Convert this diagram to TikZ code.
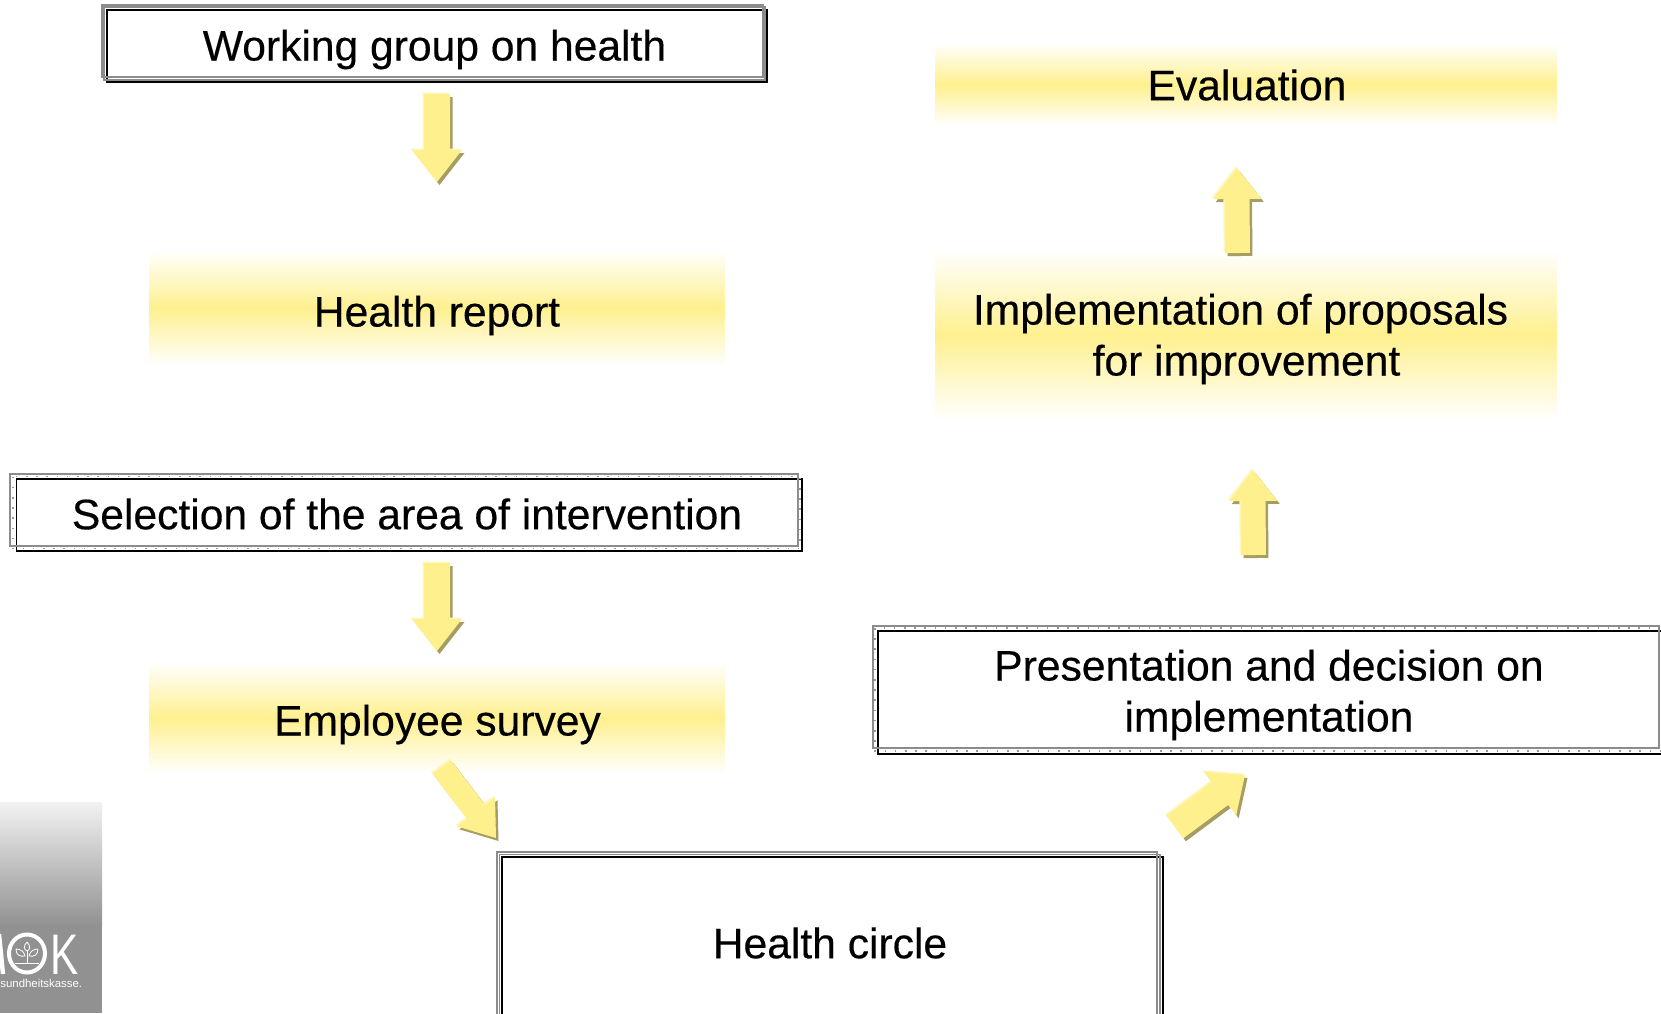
\documentclass[tikz,border=0pt]{standalone}
\usepackage{fontspec}
\setmainfont{Liberation Sans}
\newfontfamily\labelfont[FakeBold=0.35]{Liberation Sans}
\usetikzlibrary{calc}
\definecolor{bandyellow}{HTML}{FFF08F}
\definecolor{arrowface}{HTML}{FFF08E}
\definecolor{arrowlight}{HTML}{FFF6BE}
\definecolor{arrowshade}{HTML}{A59D62}
\tikzset{
  label text/.style={font=\labelfont\fontsize{21.3}{25.5}\selectfont, text=black, align=center, inner sep=0pt, anchor=center},
  band/.style={top color=white, bottom color=white, middle color=bandyellow, draw=none},
  frame gray/.style={draw=black!45, line width=0.6pt},
  frame dark/.style={draw=black, line width=0.6pt},
  frame dots/.style={draw=black!40, line width=0.7pt, dash pattern=on 0.8pt off 4.3pt},
}
% block arrow from #1 to #2, half shaft width #3, half head width #4, head length #5
\newcommand{\blockarrow}[5]{%
  \coordinate (hm) at ($(#2)!#5!(#1)$);
  \coordinate (as) at ($(#1)!#3!90:(#2)$);
  \coordinate (bl) at ($(#1)!#3!-90:(#2)$);
  \coordinate (ar) at ($(hm)!#3!-90:(#2)$);
  \coordinate (al) at ($(hm)!#3!90:(#2)$);
  \coordinate (hr) at ($(hm)!#4!-90:(#2)$);
  \coordinate (hl) at ($(hm)!#4!90:(#2)$);
  \coordinate (at) at (#2);
  \fill[arrowshade] ($(as)+(2.5,3)$) -- ($(al)+(2.5,3)$) -- ($(hl)+(2.5,3)$) -- ($(at)+(2.5,3)$) -- ($(hr)+(2.5,3)$) -- ($(ar)+(2.5,3)$) -- ($(bl)+(2.5,3)$) -- cycle;
  \fill[arrowlight] ($(as)+(-1.5,-1.5)$) -- ($(al)+(-1.5,-1.5)$) -- ($(hl)+(-1.5,-1.5)$) -- ($(at)+(-1.5,-1.5)$) -- ($(hr)+(-1.5,-1.5)$) -- ($(ar)+(-1.5,-1.5)$) -- ($(bl)+(-1.5,-1.5)$) -- cycle;
  \fill[arrowface] (as) -- (al) -- (hl) -- (at) -- (hr) -- (ar) -- (bl) -- cycle;
}
\begin{document}
\begin{tikzpicture}[x=0.5pt,y=-0.5pt]
\clip (0,0) rectangle (1661,1013);
\fill[white] (0,0) rectangle (1661,1013);

% logo
\shade[top color=black!5, bottom color=black!43] (0,802) rectangle (102,925);
\fill[black!43] (0,925) rectangle (102,1013);
\draw[white, line width=2.2pt] (-1,934) -- (3,974);
\draw[white, line width=2pt] (27,953.5) ellipse (18 and 19);
\draw[white, line width=0.4pt] (27,942) .. controls (23,946) and (24,950) .. (27,951) .. controls (30,950) and (31,946) .. (27,942);
\draw[white, line width=0.4pt] (16,949) .. controls (16,955) and (20,957) .. (25,956) .. controls (24,951) and (20,949) .. (16,949);
\draw[white, line width=0.4pt] (38,949) .. controls (38,955) and (34,957) .. (29,956) .. controls (30,951) and (34,949) .. (38,949);
\draw[white, line width=0.5pt] (27,951) -- (27,963) (15,963) -- (39,963);
\node[text=white, font=\fontsize{28.6}{28.6}\selectfont, xscale=0.74, inner sep=0pt, anchor=base west] (logoK) at (50,974) {K};
\node[text=white, font=\fontsize{5.7}{6}\selectfont, inner sep=0pt, anchor=base west] (logoText) at (0,987) {sundheitskasse.};

% yellow bands
\shade[band] (149,250) rectangle (725,366);
\shade[band] (149,662) rectangle (725,774);
\shade[band] (935,43) rectangle (1557,126);
\shade[band] (935,250) rectangle (1557,420);

% framed boxes
\draw[frame dark] (107,10) rectangle (767,82);
\draw[frame gray] (104,7) rectangle (765,80);
\draw[frame gray] (102,5) rectangle (763,77);

\draw[frame dark] (16.5,479) rectangle (802,551);
\draw[frame dots] (13,476.5) rectangle (800,548.5);
\draw[frame gray] (10,474) rectangle (798,546);

\draw[frame dark] (878,631) rectangle (1670,754);
\draw[frame dots] (875,628) rectangle (1670,751);
\draw[frame gray] (873,626) rectangle (1659,748);

\draw[frame dark] (502,857) rectangle (1163,1030);
\draw[frame gray] (499.5,854.5) rectangle (1160,1030);
\draw[frame gray] (497,852) rectangle (1157,1030);

% texts
\node[label text] (working) at (434.5,49.5) {Working group on health};
\node[label text] (report) at (437,315.5) {Health report};
\node[label text] (selection) at (407,514) {Selection of the area of intervention};
\node[label text] (survey) at (437.5,724.5) {Employee survey};
\node[label text] (circle) at (830,943) {Health circle};
\node[label text] (evaluation) at (1247,85) {Evaluation};
\node[label text] (implementation) at (1246.5,339) {Implementation of proposals\hspace*{6pt}\\for improvement};
\node[label text] (presentation) at (1269,695) {Presentation and decision on\\implementation};

% block arrows
\coordinate (a1s) at (437,94);  \coordinate (a1t) at (437,182);
\coordinate (a2s) at (437,563); \coordinate (a2t) at (437,651);
\coordinate (a3s) at (441.7,767); \coordinate (a3t) at (496,838);
\coordinate (a4s) at (1175,827); \coordinate (a4t) at (1245,775);
\coordinate (a5s) at (1253.5,555); \coordinate (a5t) at (1253,470);
\coordinate (a6s) at (1237.5,253); \coordinate (a6t) at (1237,168);
\blockarrow{a1s}{a1t}{6.5pt}{12.5pt}{16pt}
\blockarrow{a2s}{a2t}{6.5pt}{12.5pt}{16pt}
\blockarrow{a3s}{a3t}{5.7pt}{12pt}{16.5pt}
\blockarrow{a4s}{a4t}{7pt}{13.5pt}{15.5pt}
\blockarrow{a5s}{a5t}{6.2pt}{12pt}{15.5pt}
\blockarrow{a6s}{a6t}{6.2pt}{12pt}{15.5pt}
\end{tikzpicture}
\end{document}
